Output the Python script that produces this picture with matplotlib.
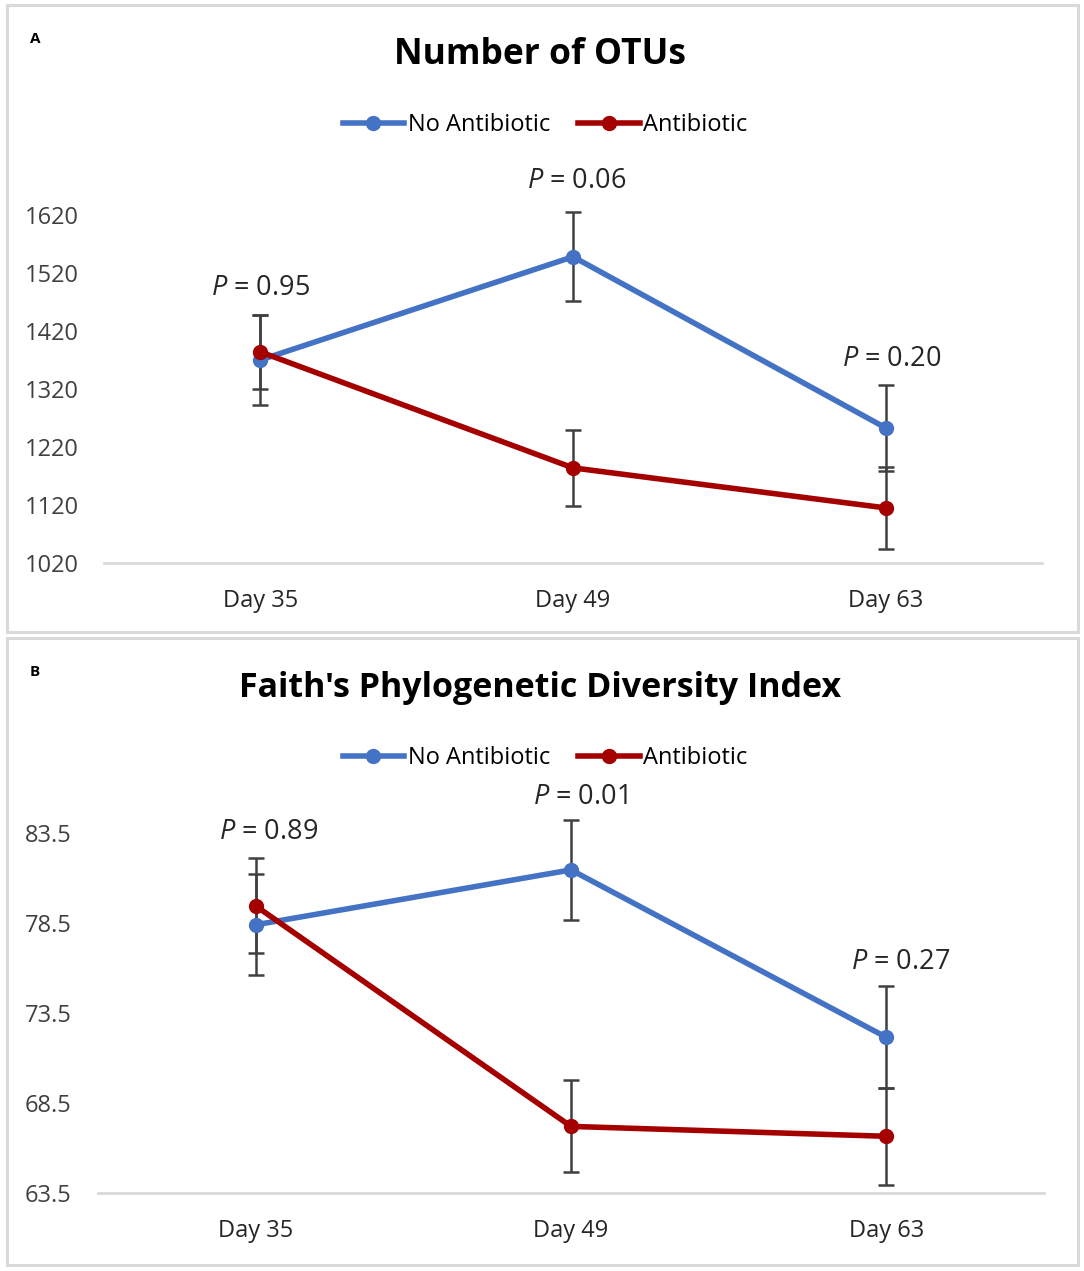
import matplotlib
matplotlib.use("Agg")
import matplotlib.pyplot as plt
from matplotlib.patches import Rectangle
from matplotlib.lines import Line2D

plt.rcParams['font.family'] = ['Open Sans', 'DejaVu Sans']
plt.rcParams['mathtext.fontset'] = 'custom'
plt.rcParams['mathtext.rm'] = 'Open Sans'
plt.rcParams['mathtext.it'] = 'Open Sans:italic'

days = ['Day 35', 'Day 49', 'Day 63']

# panel A - number of OTUs
otu_no_ab = [1370, 1548, 1253]
otu_no_ab_err = [78, 77, 74]
otu_ab = [1384, 1184, 1115]
otu_ab_err = [64, 66, 71]
otu_ticks = [1020, 1120, 1220, 1320, 1420, 1520, 1620]
otu_p = ['0.95', '0.06', '0.20']
otu_p_y = [1494, 1679, 1372]

# panel B - Faith's PD
pd_no_ab = [78.4, 81.45, 72.15]
pd_no_ab_err = [2.8, 2.8, 2.83]
pd_ab = [79.45, 67.2, 66.65]
pd_ab_err = [2.64, 2.56, 2.69]
pd_ticks = [63.5, 68.5, 73.5, 78.5, 83.5]
pd_p = ['0.89', '0.01', '0.27']
pd_p_y = [83.55, 85.5, 76.33]

W, H = 1084, 1271
blue = '#4472C4'
red = '#A50000'
errc = '#404040'

fig = plt.figure(figsize=(W / 100, H / 100), dpi=100)


def fx(x):
    return x / W


def fy(y):
    return 1 - y / H


def panel(top, bot, left, right, ytop, ybot, letter, title, tsize, ylim, ticks, fmt,
          s1, e1, s2, e2, ptxt, py, pdx):
    fig.patches.append(Rectangle((fx(7), fy(bot)), fx(1078) - fx(7), fy(top) - fy(bot),
                                 transform=fig.transFigure, fill=False,
                                 edgecolor='#d9d9d9', lw=2.2))
    fig.text(fx(35), fy(top + 34), letter, fontsize=11, fontweight='bold', ha='center', va='center')
    fig.text(fx(540), fy(top + 50), title, fontsize=tsize, fontweight='bold', ha='center', va='center')

    ax = fig.add_axes([fx(left), fy(ybot), fx(right) - fx(left), fy(ytop) - fy(ybot)])
    x = list(range(len(days)))
    ax.errorbar(x, s1, yerr=e1, fmt='none', ecolor=errc, elinewidth=1.8,
                capsize=5.5, capthick=1.8, clip_on=False, zorder=2)
    ax.errorbar(x, s2, yerr=e2, fmt='none', ecolor=errc, elinewidth=1.8,
                capsize=5.5, capthick=1.8, clip_on=False, zorder=2)
    ax.plot(x, s1, color=blue, lw=4, marker='o', ms=10, clip_on=False, zorder=3,
            solid_capstyle='round')
    ax.plot(x, s2, color=red, lw=4, marker='o', ms=10, clip_on=False, zorder=4,
            solid_capstyle='round')
    for i in range(len(days)):
        ax.text(i + pdx[i], py[i], r'$\it{P}$ = ' + ptxt[i], fontsize=19.5,
                color='#262626', ha='center', va='center')

    ax.set_xlim(-0.5, len(days) - 0.5)
    ax.set_ylim(*ylim)
    ax.set_xticks(x)
    ax.set_xticklabels(days, fontsize=17, color='#262626')
    ax.set_yticks(ticks)
    ax.set_yticklabels([fmt.format(t) for t in ticks], fontsize=17, color='#404040', ha='left')
    ax.tick_params(axis='y', length=0, pad=(left - 25) * 0.72)
    ax.tick_params(axis='x', length=0, pad=19)
    for s in ['top', 'right', 'left']:
        ax.spines[s].set_visible(False)
    ax.spines['bottom'].set_color('#d9d9d9')
    ax.spines['bottom'].set_linewidth(2)
    ax.patch.set_alpha(0)

    handles = [Line2D([], [], color=blue, lw=4, marker='o', ms=10),
               Line2D([], [], color=red, lw=4, marker='o', ms=10)]
    fig.legend(handles, ['No Antibiotic', 'Antibiotic'], loc='center',
               bbox_to_anchor=(fx(545), fy(top + 120)), ncol=2, frameon=False,
               fontsize=17, handlelength=2.6, handletextpad=0.15, columnspacing=1.2)
    return ax


panel(5, 632, 104, 1042, 215, 563, 'A', 'Number of OTUs', 25.5, (1020, 1620),
      otu_ticks, '{:.0f}', otu_no_ab, otu_no_ab_err, otu_ab, otu_ab_err,
      otu_p, otu_p_y, [0.0, 0.01, 0.02])
panel(638, 1265, 98, 1044, 833, 1193, 'B', "Faith's Phylogenetic Diversity Index", 24.5, (63.5, 83.5),
      pd_ticks, '{:.1f}', pd_no_ab, pd_no_ab_err, pd_ab, pd_ab_err,
      pd_p, pd_p_y, [0.04, 0.03, 0.045])

fig.savefig('out.png', dpi=100)
